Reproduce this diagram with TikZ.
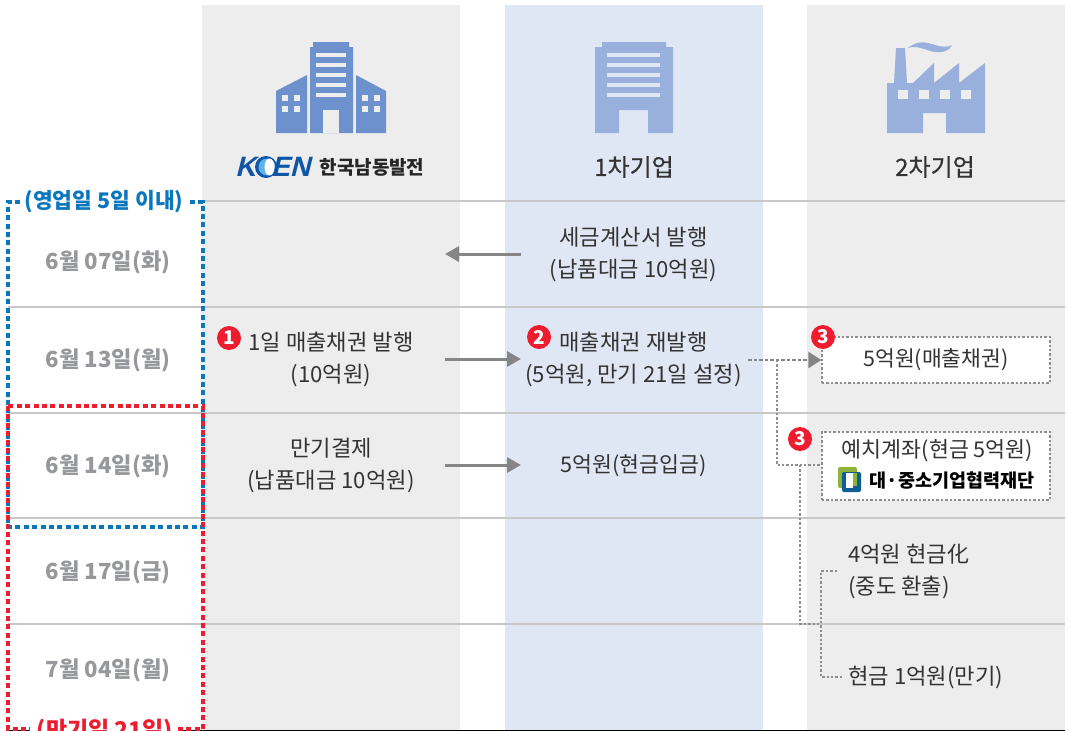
\documentclass[tikz,border=0pt]{standalone}
\usepackage{fontspec}
\setmainfont{Noto Sans CJK KR}
\newfontfamily\logofont{Liberation Sans}
\newfontfamily\headfont[FakeBold=0.5]{Noto Sans CJK KR}
\usetikzlibrary{arrows.meta}
\definecolor{lanegray}{HTML}{EDEDED}
\definecolor{laneblue}{HTML}{E0E7F4}
\definecolor{iconblue}{HTML}{6C91CC}
\definecolor{iconpale}{HTML}{98B0DB}
\definecolor{rulegray}{HTML}{C8C8C8}
\definecolor{dategray}{HTML}{97989B}
\definecolor{textgray}{HTML}{333333}
\definecolor{flowgray}{HTML}{858585}
\definecolor{dotgray}{HTML}{8E8E8E}
\definecolor{mdblue}{HTML}{0A76BC}
\definecolor{mdred}{HTML}{ED1C2E}
\definecolor{koenblue}{HTML}{0F56A6}
\definecolor{koenpale}{HTML}{5FB4E6}
\definecolor{leafgreen}{HTML}{8DB33A}
\definecolor{kosmesblue}{HTML}{0F5E94}
\tikzset{
  datelabel/.style={font=\fontsize{22.2}{22.2}\selectfont\bfseries,text=dategray,inner sep=0pt},
  flowtext/.style={font=\fontsize{22.2}{32}\selectfont,text=textgray,align=center,inner sep=0pt},
  headlabel/.style={font=\headfont\fontsize{24}{24}\selectfont,text=textgray,inner sep=0pt},
  badge/.style={circle,fill=mdred,text=white,inner sep=0pt,minimum size=24pt,font=\fontsize{19}{19}\selectfont\bfseries},
  rowrule/.style={rulegray,line width=1.3pt},
  flowarrow/.style={flowgray,line width=3pt,-{Triangle[length=14pt,width=15pt]}},
  dotbox/.style={draw=dotgray,dash pattern=on 2.4pt off 2pt,line width=1.3pt,fill=white},
  dotline/.style={dotgray,dash pattern=on 2.4pt off 2pt,line width=1.3pt},
  framedash/.style={line width=3.2pt,dash pattern=on 5pt off 3.4pt}
}
\begin{document}
\begin{tikzpicture}[x=1pt,y=-1pt]
  \useasboundingbox (0,0) rectangle (1069,731);
  \clip (0,0) rectangle (1069,731);
  % lanes
  \fill [lanegray] (202,5) rectangle (460,731);
  \fill [laneblue] (505,5) rectangle (763,731);
  \fill [lanegray] (807,5) rectangle (1065,731);
  % row rules
  \draw [rowrule] (203,201) -- (1065,201);
  \foreach \ypos in {307,413,518,624}
    \draw [rowrule] (8,\ypos) -- (1065,\ypos);
  \draw [black,line width=1.5pt] (8,730.5) -- (30,730.5) (178,730.5) -- (1065,730.5);
  % building of the first lane
  \fill [iconblue] (276,133) -- (276,91) -- (307,75) -- (307,133) -- cycle;
  \fill [iconblue] (386,133) -- (386,91) -- (356,75) -- (356,133) -- cycle;
  \fill [iconblue] (310,133) -- (310,47) -- (313,47) -- (313,42) -- (349,42) -- (349,47) -- (353,47) -- (353,133) -- cycle;
  \fill [lanegray] (323,110) rectangle (339,133);
  \foreach \ypos in {53,63,73,83,93}
    \fill [lanegray] (316,\ypos) rectangle (346,\ypos+4);
  \foreach \xpos in {282,294,362,374}
    \foreach \ypos in {95,106}
      \fill [lanegray] (\xpos,\ypos) rectangle (\xpos+6.3,\ypos+6);
  % building of the second lane
  \fill [iconpale] (595,133) -- (595,47) -- (602,47) -- (602,42) -- (666,42) -- (666,47) -- (673,47) -- (673,133) -- (648,133) -- (648,110) -- (619,110) -- (619,133) -- cycle;
  \foreach \ypos in {53,63,73,83,93}
    \fill [laneblue] (607,\ypos) rectangle (660,\ypos+4);
  % factory
  \fill [iconpale] (887,133) -- (887,83) -- (894,83) -- (896,48) -- (905,48) -- (907,83) -- (913,83) -- (934,63) -- (934,83) -- (959,63) -- (959,83) -- (985,63) -- (985,133) -- (946,133) -- (946,113) -- (923,113) -- (923,133) -- cycle;
  \foreach \xpos in {898,919,940,961}
    \fill [lanegray] (\xpos,90) rectangle (\xpos+10,99);
  \fill [iconpale] (908,48) .. controls (914,43) and (921,41) .. (928,43) .. controls (936,45) and (945,49) .. (952,45) .. controls (950,51) and (942,53) .. (934,52) .. controls (926,50) and (916,45) .. (908,48) -- cycle;
  % koen logo
  \fill [koenblue] (266,167) circle (11);
  \fill [koenpale] (267,167) circle (8.5);
  \fill [white] (269.5,167) ellipse (5 and 8.5);
  \node [xslant=0.25,font=\logofont\fontsize{28}{28}\selectfont\bfseries,text=koenblue,inner sep=0pt] (koenk) at (248,167) {K};
  \node [xslant=0.25,font=\logofont\fontsize{28}{28}\selectfont\bfseries,text=koenblue,inner sep=0pt] (koenen) at (293,167) {EN};
  % lane heads
  \node [font=\fontsize{19}{19}\selectfont\bfseries,text=black!85,inner sep=0pt] (kosep) at (372,167) {한국남동발전};
  \node [headlabel] (tierone) at (634,167) {1차기업};
  \node [headlabel] (tiertwo) at (935,167) {2차기업};
  % dates
  \node [datelabel] (junea) at (108,262) {6월 07일(화)};
  \node [datelabel] (juneb) at (108,360) {6월 13일(월)};
  \node [datelabel] (junec) at (108,466) {6월 14일(화)};
  \node [datelabel] (juned) at (108,572) {6월 17일(금)};
  \node [datelabel] (julya) at (108,670) {7월 04일(월)};
  % dashed frames
  \draw [mdblue,framedash] (20,202) -- (8,202) -- (8,527) -- (203,527) -- (203,202) -- (189,202);
  \draw [mdred,framedash] (8,406) -- (8,729) -- (30,729) (178,729) -- (203,729) -- (203,406) -- (8,406);
  \node [text=mdblue,font=\fontsize{21.5}{21.5}\selectfont\bfseries,inner sep=0pt] (fivedays) at (104,202) {(영업일 5일 이내)};
  \node [text=mdred,font=\fontsize{23}{23}\selectfont\bfseries,inner sep=0pt] (maturity) at (105,731) {(만기일 21일)};
  % first row
  \node [flowtext] (invoice) at (633.5,254.5) {세금계산서 발행\\(납품대금 10억원)};
  \coordinate (invoicea) at (521,254);
  \coordinate (invoiceb) at (445,254);
  \draw [flowarrow] (invoicea) -- (invoiceb);
  % second row
  \node [flowtext] (issue) at (331,359.5) {1일 매출채권 발행\\(10억원)};
  \node [flowtext] (reissue) at (633.5,359.5) {매출채권 재발행\\(5억원, 만기 21일 설정)};
  \node [badge] (stepone) at (229,338) {1};
  \node [badge] (steptwo) at (539,337) {2};
  \coordinate (issuea) at (445,359);
  \coordinate (issueb) at (521,359);
  \draw [flowarrow] (issuea) -- (issueb);
  \node [dotbox,minimum width=228pt,minimum height=46pt,inner sep=0pt,text=textgray,font=\fontsize{21.5}{21.5}\selectfont] (bond) at (936,360) {5억원(매출채권)};
  \node [badge] (stepthree) at (823,337) {3};
  \coordinate (passa) at (748,360);
  \draw [flowgray,line width=2.4pt,dash pattern=on 3.5pt off 2pt,-{Triangle[length=13pt,width=16pt]}] (passa) -- (bond.west);
  % third row
  \node [flowtext] (payment) at (331,465.5) {만기결제\\(납품대금 10억원)};
  \node [flowtext,font=\fontsize{21.6}{21.6}\selectfont] (cashin) at (633.5,465.5) {5억원(현금입금)};
  \coordinate (paya) at (445,465);
  \coordinate (payb) at (521,465);
  \draw [flowarrow] (paya) -- (payb);
  \node [dotbox,minimum width=228pt,minimum height=68pt,inner sep=0pt] (deposit) at (936,466) {};
  \node [flowtext,font=\fontsize{21.7}{21.7}\selectfont] (account) at (937.5,451) {예치계좌(현금 5억원)};
  \node [text=black,font=\fontsize{18.5}{18.5}\selectfont\bfseries,inner sep=0pt] (kosmes) at (952,481) {대·중소기업협력재단};
  \fill [rounded corners=2pt,leafgreen] (838,467) rectangle (857,488);
  \fill [rounded corners=2pt,kosmesblue] (842,472) rectangle (861,492);
  \fill [white] (846,473) rectangle (853,488);
  \fill [leafgreen] (853,473) rectangle (857,486);
  \node [badge] (stepfour) at (800,439) {3};
  % links of the deposit
  \coordinate (splita) at (777,360);
  \coordinate (splitb) at (777,465);
  \coordinate (splitc) at (800,465);
  \coordinate (splitd) at (800,624);
  \coordinate (splite) at (821,624);
  \draw [dotline] (splita) -- (splitb) -- (deposit.west |- splitb);
  \draw [dotline] (splitc) -- (splitd) -- (splite);
  \node [flowtext,align=left,anchor=west] (cashout) at (848,571.5) {4억원 현금化\\(중도 환출)};
  \node [flowtext,anchor=west] (cashend) at (848,677.5) {현금 1억원(만기)};
  \coordinate (brancha) at (837,571);
  \coordinate (branchb) at (821,571);
  \coordinate (branchc) at (821,677);
  \coordinate (branchd) at (842,677);
  \draw [dotline] (brancha) -- (branchb) -- (branchc) -- (branchd);
\end{tikzpicture}
\end{document}
